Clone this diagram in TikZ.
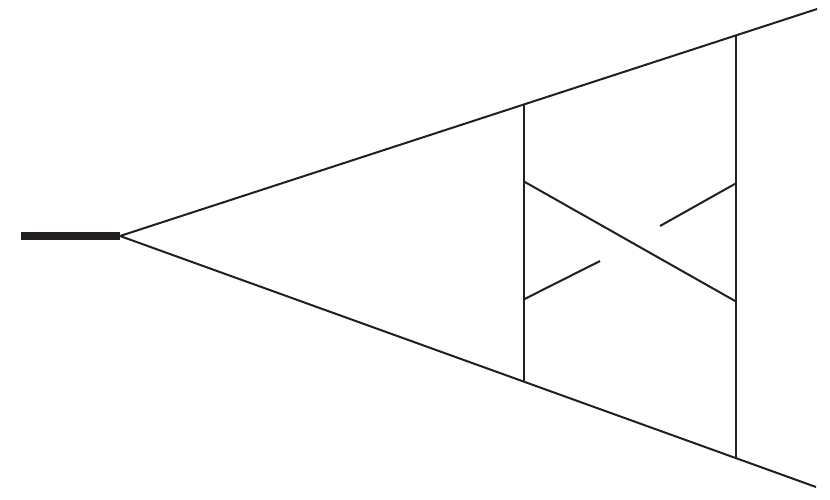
\documentclass[tikz,border=0pt]{standalone}
\definecolor{ink}{HTML}{231F20}
\begin{document}
\begin{tikzpicture}[x=1pt,y=-1pt,
  line/.style={draw=ink,line width=2pt},
  thick line/.style={draw=ink,line width=8pt}]
\useasboundingbox (0,0) rectangle (830,499);
\coordinate (s) at (21,236);
\coordinate (v) at (120,236);
\coordinate (ue) at (817,9);
\coordinate (le) at (816,487);
\coordinate (a1) at (524,104.5);
\coordinate (a2) at (524,381.7);
\coordinate (b1) at (736,35.4);
\coordinate (b2) at (736,458);
\coordinate (c1) at (524,181.5);
\coordinate (c2) at (736,301.5);
\coordinate (d1) at (524,299.3);
\coordinate (d2) at (600,261);
\coordinate (e1) at (660,226);
\coordinate (e2) at (736,183.3);
\draw[thick line] (s) -- (v);
\draw[line] (v) -- (ue);
\draw[line] (v) -- (le);
\draw[line] (a1) -- (a2);
\draw[line] (b1) -- (b2);
\draw[line] (c1) -- (c2);
\draw[line] (d1) -- (d2);
\draw[line] (e1) -- (e2);
\end{tikzpicture}
\end{document}
